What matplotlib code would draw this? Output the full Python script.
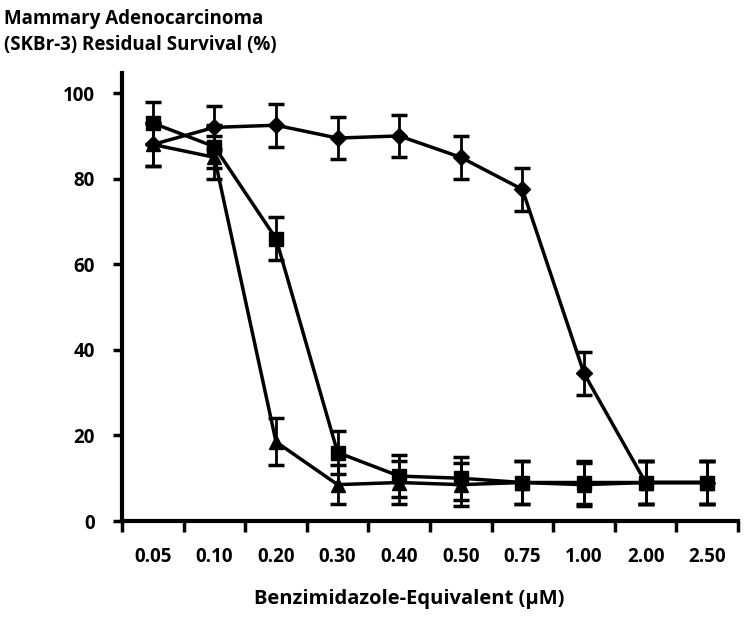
import numpy as np
import matplotlib
matplotlib.use("Agg")
import matplotlib.pyplot as plt

plt.rcParams['font.family'] = ['Open Sans', 'DejaVu Sans']
plt.rcParams['font.weight'] = 'bold'

doses = ["0.05", "0.10", "0.20", "0.30", "0.40", "0.50", "0.75", "1.00", "2.00", "2.50"]

# survival (%) per series
diamond = [88, 92, 92.5, 89.5, 90, 85, 77.5, 34.5, 9, 9]
square = [93, 87.5, 66, 16, 10.5, 10, 9, 9, 9, 9]
triangle = [88, 85, 18.5, 8.5, 9, 8.5, 9, 8.5, 9, 9]

diamond_err = [5, 5, 5, 5, 5, 5, 5, 5, 5, 5]
square_err = [5, 5, 5, 5, 5, 5, 5, 5, 5, 5]
triangle_err = [5, 5, 5.5, 4.5, 5, 5, 5, 5, 5, 5]

fig = plt.figure(figsize=(7.5, 6.21), dpi=100)
ax = fig.add_axes([0.1627, 0.161, 0.8213, 0.7214])

x = np.arange(len(doses))
for vals, err, mk, ms in [(triangle, triangle_err, '^', 10),
                          (square, square_err, 's', 9.5),
                          (diamond, diamond_err, 'D', 8.5)]:
    ax.errorbar(x, vals, yerr=err, color='black', marker=mk, markersize=ms,
                linewidth=2.5, elinewidth=2, capsize=5.5, capthick=2.5)

ax.set_xlim(-0.5, len(doses) - 0.5)
ax.set_ylim(0, 104.7)
ax.set_yticks([0, 20, 40, 60, 80, 100])
# ticks sit between the dose categories, labels in the middle
ax.set_xticks(np.arange(len(doses) + 1) - 0.5)
ax.set_xticklabels([])
ax.set_xticks(x, minor=True)
ax.set_xticklabels(doses, minor=True)
ax.tick_params(axis='x', which='minor', length=0, pad=19, labelsize=13.5)
ax.tick_params(axis='x', which='major', length=8, width=2.5)
ax.tick_params(axis='y', length=6.5, width=2.5, labelsize=13.5, pad=13)

for s in ['top', 'right']:
    ax.spines[s].set_visible(False)
for s in ['left', 'bottom']:
    ax.spines[s].set_linewidth(3)

ax.set_xlabel("Benzimidazole-Equivalent (\u00b5M)", fontsize=14.5, fontweight='bold')
ax.xaxis.set_label_coords(0.466, -0.152)
fig.text(0.006, 0.985, "Mammary Adenocarcinoma\n(SKBr-3) Residual Survival (%)",
         ha='left', va='top', fontsize=13.5, fontweight='bold', linespacing=1.35)

fig.savefig("out.png", dpi=100)
